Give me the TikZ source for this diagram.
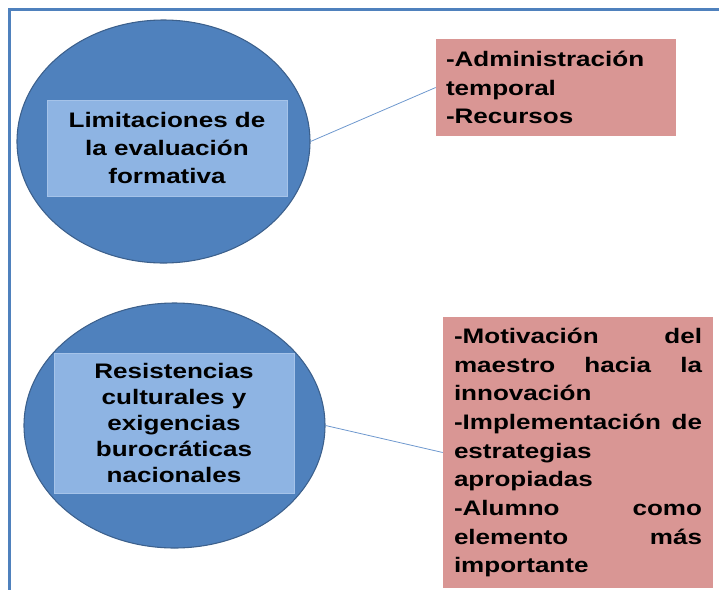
\documentclass[tikz,border=0pt]{standalone}
\usepackage{fontspec}
\setmainfont{Liberation Sans}[FakeStretch=1.24]
\usetikzlibrary{shapes.geometric}
\definecolor{frameColor}{RGB}{79, 129, 189}
\definecolor{ovalFill}{RGB}{79, 129, 189}
\definecolor{ovalLine}{RGB}{60, 96, 140}
\definecolor{labelFill}{RGB}{142, 180, 227}
\definecolor{listFill}{RGB}{217, 150, 148}
\definecolor{linkColor}{RGB}{110, 152, 206}
\tikzset{
    box_text/.style={
        font=\bfseries\fontsize{15.75}{21.5}\selectfont,
        text=black
    },
    tema_oval/.style={
        ellipse,
        draw=ovalLine,
        fill=ovalFill,
        line width=0.8pt,
        inner sep=0pt
    },
    tema_label/.style={
        box_text,
        font=\bfseries\fontsize{15.75}{21}\selectfont,
        rectangle,
        fill=labelFill,
        draw=labelFill!80!white,
        line width=0.4pt,
        align=center,
        minimum width=180pt,
        inner sep=0pt
    },
    lista_box/.style={
        box_text,
        rectangle,
        fill=listFill,
        inner ysep=0pt
    },
    enlace/.style={
        draw=linkColor,
        line width=0.6pt
    },
    marco/.style={
        draw=frameColor,
        line width=1.6pt
    }
}
\begin{document}
\begin{tikzpicture}[x=0.75pt, y=-0.75pt]
    \useasboundingbox (0,0) rectangle (719,590);
    \draw[marco] (730,9.5) -- (9.5,9.5) -- (9.5,600);

    % primer tema
    \node[tema_oval, minimum width=219.75pt, minimum height=182.25pt] (limit) at (163.5,141.5) {};
    \node[tema_label, minimum height=72pt] (limitTxt) at (167,148)
        {Limitaciones de\\ la evaluación\\ formativa};
    \node[lista_box, text width=165pt, inner xsep=7.5pt, minimum height=72.75pt, align=left] (recursos) at (556,87.5)
        {-Administración\\ temporal\\ -Recursos};

    % segundo tema
    \node[tema_oval, minimum width=225.75pt, minimum height=183.75pt] (resist) at (174.5,425.5) {};
    \node[tema_label, font=\bfseries\fontsize{15.75}{19.5}\selectfont, minimum height=105pt] (resistTxt) at (174,423)
        {Resistencias\\ culturales y\\ exigencias\\ burocráticas\\ nacionales};
    \node[lista_box, text width=186pt, inner xsep=8.25pt, minimum height=203.25pt, align=justify] (motiv) at (578,452.5)
        {\tolerance=10000 \hyphenpenalty=10000
         -Motivación del\linebreak maestro hacia la\linebreak innovación\\
         -Implementación de\linebreak estrategias\linebreak apropiadas\\
         -Alumno como\linebreak elemento más\linebreak importante};

    \draw[enlace] (limit.east) -- (recursos.west);
    \draw[enlace] (resist.east) -- (motiv.west);
\end{tikzpicture}
\end{document}
